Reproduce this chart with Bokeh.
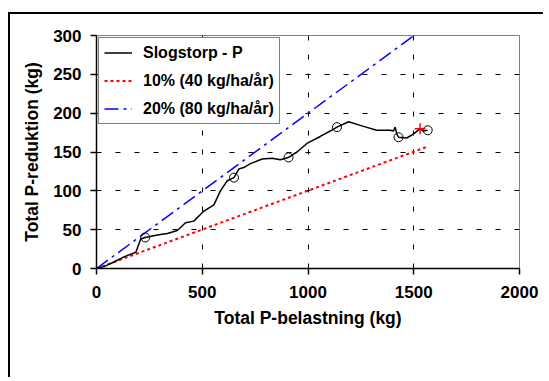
from bokeh.plotting import figure
from bokeh.models import Range1d, Legend, LegendItem, FixedTicker
from bokeh.embed import file_html
from bokeh.resources import INLINE

# ---- data ----
obs_x = [0, 40, 80, 130, 186, 209, 230, 288, 335, 382, 421, 460, 508, 555, 586, 618,
         650, 673, 696, 728, 783, 830, 869, 908, 948, 995, 1058, 1105, 1137, 1192,
         1262, 1325, 1388, 1404, 1412, 1420, 1428, 1467, 1498, 1530, 1545, 1566]
obs_y = [0, 3, 8, 15, 21, 38, 40, 43, 45, 49, 59, 61, 74, 82, 100, 113,
         117, 128, 130, 135, 141, 142, 140, 143, 150, 161, 170, 177, 182, 189,
         183, 178, 178, 177, 182, 173, 169, 168, 173, 180, 177, 178]
mark_x = [230, 650, 908, 1137, 1428, 1566]
mark_y = [40, 117, 143, 182, 169, 178]
cross_x = [1530]
cross_y = [180]
ref10_x = [0, 1566]
ref10_y = [0, 157]
ref20_x = [0, 1566]
ref20_y = [0, 313]
x_ticks = [0, 500, 1000, 1500, 2000]
y_ticks = [0, 50, 100, 150, 200, 250, 300]
legend_labels = ["Slogstorp - P", "10% (40 kg/ha/år)", "20% (80 kg/ha/år)"]
x_title = "Total P-belastning (kg)"
y_title = "Total P-reduktion (kg)"

FONT = "Liberation Sans"
W, H = 535, 365

p = figure(width=W, height=H, x_range=Range1d(0, 2000), y_range=Range1d(0, 300),
           output_backend="svg", toolbar_location=None,
           min_border_left=86, min_border_right=26, min_border_top=21, min_border_bottom=111)
# outer chart-area frame: only its top and left edges fall inside the window
p.margin = (12, 0, 0, 8)
p.styles = {"border-top": "2px solid black", "border-left": "2px solid black"}
p.background_fill_color = "white"
p.border_fill_color = "white"
p.outline_line_color = "#808080"
p.outline_line_width = 1

for ax in (p.xaxis[0], p.yaxis[0]):
    ax.axis_line_color = "black"
    ax.axis_line_width = 1.5
    ax.major_tick_line_color = "black"
    ax.major_tick_line_width = 1.5
    ax.major_tick_in = 0
    ax.major_tick_out = 6
    ax.minor_tick_line_color = None
    ax.major_label_text_font = FONT
    ax.major_label_text_font_style = "bold"
    ax.major_label_text_font_size = "17px"
    ax.major_label_text_color = "black"
    ax.axis_label_text_font = FONT
    ax.axis_label_text_font_style = "bold"
    ax.axis_label_text_font_size = "17.5px"
    ax.axis_label_text_color = "black"

p.xaxis.ticker = FixedTicker(ticks=x_ticks)
p.yaxis.ticker = FixedTicker(ticks=y_ticks)
p.xaxis.axis_label = x_title
p.yaxis.axis_label = y_title
p.xaxis.major_label_standoff = 11
p.xaxis.axis_label_standoff = 7
p.yaxis.major_label_standoff = 9
p.yaxis.axis_label_standoff = 8

for g in (p.xgrid[0], p.ygrid[0]):
    g.grid_line_color = "black"
    g.grid_line_width = 1
    g.grid_line_dash = "5 14"
p.xgrid.ticker = FixedTicker(ticks=x_ticks)
p.ygrid.ticker = FixedTicker(ticks=y_ticks)

r10 = p.line(ref10_x, ref10_y, line_color="#FF0000", line_width=2, line_dash="3 3")
r20 = p.line(ref20_x, ref20_y, line_color="#0000FF", line_width=1.5, line_dash="14 5 3 5")
robs = p.line(obs_x, obs_y, line_color="black", line_width=1.5)
p.scatter(mark_x, mark_y, marker="circle", size=9, fill_color=None,
          line_color="black", line_width=1)
p.scatter(cross_x, cross_y, marker="cross", size=11, line_color="#FF0000", line_width=1.5)

legend = Legend(items=[LegendItem(label=legend_labels[0], renderers=[robs]),
                       LegendItem(label=legend_labels[1], renderers=[r10]),
                       LegendItem(label=legend_labels[2], renderers=[r20])],
                location="top_left")
legend.margin = 2
legend.padding = 5
legend.spacing = 9
legend.glyph_width = 28
legend.glyph_height = 19
legend.label_height = 19
legend.label_standoff = 11
legend.label_text_font = FONT
legend.label_text_font_style = "bold"
legend.label_text_font_size = "16px"
legend.label_text_color = "black"
legend.border_line_color = "black"
legend.border_line_width = 1
legend.background_fill_color = "white"
legend.background_fill_alpha = 1
p.add_layout(legend)

open("out.html", "w").write(file_html(p, INLINE))
